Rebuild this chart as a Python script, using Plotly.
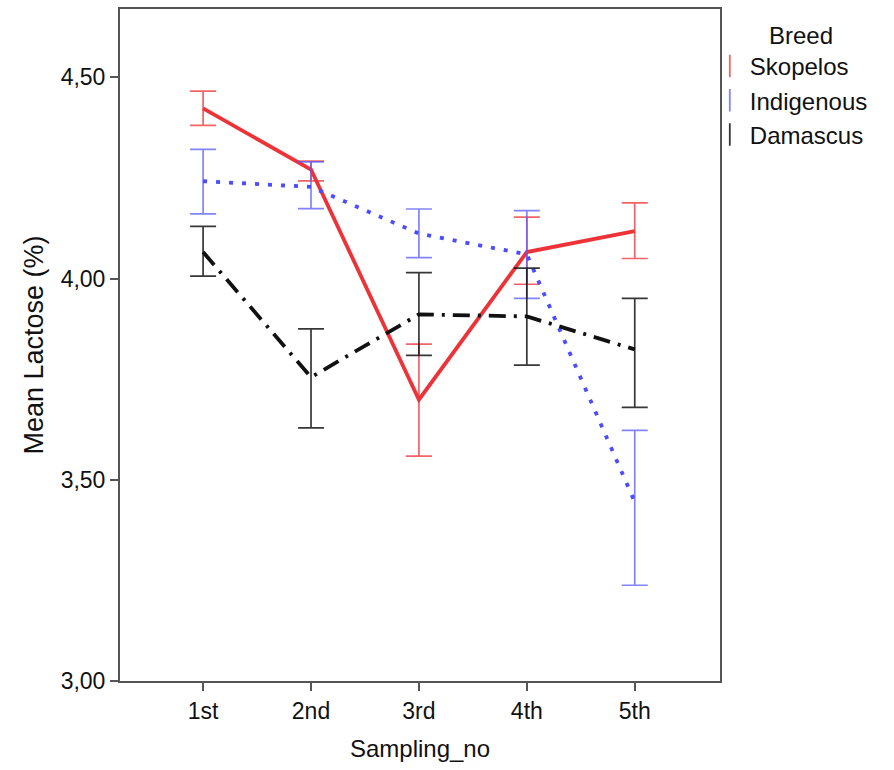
import plotly.graph_objects as go

# Mean lactose (%) by sampling and breed, with 95% CI bounds
samplings = ["1st", "2nd", "3rd", "4th", "5th"]
breeds = ["Skopelos", "Indigenous", "Damascus"]

skopelos_mean = [4.423, 4.271, 3.699, 4.066, 4.118]
skopelos_low = [4.381, 4.243, 3.559, 3.986, 4.050]
skopelos_high = [4.466, 4.292, 3.837, 4.153, 4.188]

indigenous_mean = [4.242, 4.228, 4.112, 4.060, 3.445]
indigenous_low = [4.161, 4.174, 4.052, 3.951, 3.238]
indigenous_high = [4.321, 4.290, 4.173, 4.169, 3.623]

damascus_mean = [4.066, 3.755, 3.911, 3.906, 3.824]
damascus_low = [4.006, 3.629, 3.809, 3.785, 3.680]
damascus_high = [4.130, 3.875, 4.015, 4.026, 3.951]

y_ticks = [3.0, 3.5, 4.0, 4.5]

series = [
    (skopelos_mean, skopelos_low, skopelos_high, "#EE3338", "rgba(238,60,64,0.8)", "solid"),
    (indigenous_mean, indigenous_low, indigenous_high, "#4B4BFF", "rgba(90,90,255,0.75)", "4px,9px"),
    (damascus_mean, damascus_low, damascus_high, "#111111", "rgba(20,20,20,0.85)", "17px,8px,3px,8px"),
]

fig = go.Figure()
for name, (mean, low, high, col, ecol, dash) in zip(breeds, series):
    fig.add_trace(go.Scatter(
        x=samplings, y=mean, mode="lines", name=name, showlegend=False,
        line=dict(color=col, width=3.8, dash=dash),
        error_y=dict(type="data", symmetric=False,
                     array=[h - m for h, m in zip(high, mean)],
                     arrayminus=[m - l for m, l in zip(mean, low)],
                     color=ecol, thickness=1.7, width=13),
        hoverinfo="skip",
    ))

# legend entries drawn as vertical markers like the SPSS "I" glyph
for name, (mean, low, high, col, ecol, dash) in zip(breeds, series):
    fig.add_trace(go.Scatter(
        x=[None], y=[None], mode="markers", name=name,
        marker=dict(symbol="line-ns-open", size=17, color=ecol, line=dict(color=ecol, width=1.8)),
    ))

font = "Liberation Sans, Arial, sans-serif"
fig.update_layout(
    width=894, height=770,
    margin=dict(l=120, r=174, t=7, b=89),
    plot_bgcolor="white", paper_bgcolor="white",
    separators=",.",
    font=dict(family=font, size=23, color="#111"),
    legend=dict(
        x=0.983, y=0.948, xanchor="left", yanchor="top",
        font=dict(size=24, color="#111"),
        itemwidth=30, tracegroupgap=0, borderwidth=0, bgcolor="rgba(0,0,0,0)",
    ),
    annotations=[dict(text="Breed", xref="paper", yref="paper", x=1.135, y=0.961,
                      xanchor="center", yanchor="middle", showarrow=False,
                      font=dict(size=24, color="#111"))],
)
fig.update_xaxes(
    range=[-0.77, 4.79], showline=True, linecolor="#555", linewidth=2, mirror=True,
    ticks="outside", ticklen=8, tickcolor="#555", tickwidth=2, showgrid=False,
    title=dict(text="Sampling_no", font=dict(size=24), standoff=18),
    tickfont=dict(size=23),
)
fig.update_yaxes(
    range=[3.0, 4.67], tickvals=y_ticks, tickformat=".2f",
    showline=True, linecolor="#555", linewidth=2, mirror=True,
    ticks="outside", ticklen=8, tickcolor="#555", tickwidth=2, showgrid=False, zeroline=False,
    title=dict(text="Mean Lactose (%)", font=dict(size=27), standoff=9),
    tickfont=dict(size=23),
)

fig.write_html("out.html", config={"displayModeBar": False},
               post_script="document.body.style.margin='0';")
